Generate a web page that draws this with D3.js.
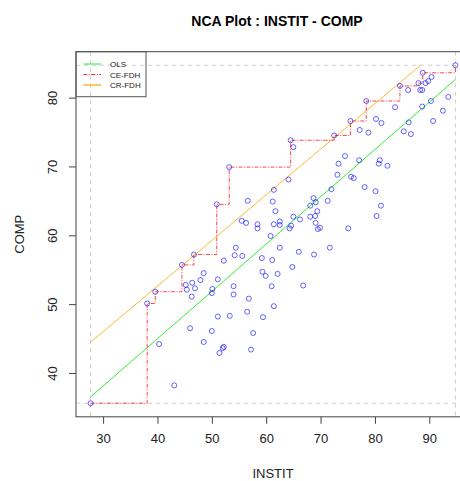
<!DOCTYPE html>
<html>
<head>
<meta charset="utf-8">
<script src="https://cdn.jsdelivr.net/npm/d3@7"></script>
<style>
	body { margin: 0; background: #fff; }
	text { font-family: Arial, "Liberation Sans", sans-serif; }
</style>
</head>
<body>
<svg id="canvas" width="460" height="481"></svg>
<script>
'use strict';

// INSTIT (x) and COMP (y) values
const instit = [
	27.7, 38.1, 39.6, 40.3, 43.1, 44.5, 45.2, 45.4, 46.4, 46.9,
	46.3, 46.0, 46.7, 47.9, 48.5, 48.5, 50.0, 50.1, 50.0, 50.9,
	51.1, 51.1, 51.4, 52.0, 52.2, 52.2, 53.2, 53.3, 54.0, 54.0,
	54.2, 54.4, 55.6, 55.5, 56.3, 56.6, 56.5, 56.8, 57.2, 57.6,
	58.4, 58.4, 59.2, 59.3, 59.9, 59.4, 60.8, 61.0, 61.1, 61.4,
	61.2, 61.7, 61.4, 61.4, 62.1, 62.5, 62.5, 62.5, 64.1, 64.5,
	65.0, 65.0, 64.6, 64.3, 64.8, 66.2, 66.0, 66.8, 68.7, 68.1,
	69.1, 68.1, 69.0, 69.4, 69.1, 69.5, 69.9, 68.8, 71.3, 71.7,
	72.0, 72.5, 73.1, 73.3, 74.5, 75.1, 75.5, 75.6, 76.1, 77.1,
	77.2, 78.1, 78.4, 78.8, 80.1, 80.2, 80.3, 80.9, 80.7, 81.1,
	81.2, 82.3, 83.7, 84.6, 85.3, 86.1, 86.2, 86.6, 88.0, 88.3,
	88.7, 88.7, 88.8, 89.3, 89.8, 90.3, 90.4, 90.7, 92.5, 93.5,
	94.8
];
const comp = [
	35.6, 50.1, 51.8, 44.2, 38.2, 55.7, 52.8, 52.1, 53.1, 52.3,
	51.1, 46.5, 57.2, 53.5, 54.5, 44.5, 51.6, 52.2, 46.1, 64.5,
	53.6, 48.2, 42.9, 43.6, 43.8, 56.3, 69.9, 48.3, 52.6, 51.4,
	57.1, 58.2, 57.0, 62.1, 61.8, 65.0, 48.9, 50.8, 43.4, 45.8,
	61.6, 61.0, 56.7, 54.7, 54.1, 48.1, 59.9, 52.6, 56.4, 66.6,
	64.9, 63.5, 61.6, 49.7, 54.4, 62.0, 61.5, 58.2, 68.1, 73.8,
	72.8, 62.7, 61.4, 61.0, 55.4, 62.3, 57.6, 52.7, 65.4, 64.3,
	64.8, 62.7, 62.8, 63.5, 61.8, 60.9, 61.1, 57.2, 65.0, 58.2,
	66.7, 74.5, 68.8, 70.4, 71.5, 61.0, 76.6, 68.5, 68.3, 70.9,
	75.3, 67.0, 79.5, 74.9, 66.4, 76.9, 62.8, 70.9, 70.4, 64.3,
	76.3, 70.1, 78.6, 81.7, 75.1, 81.1, 76.4, 74.7, 82.1, 81.1,
	81.1, 78.7, 83.6, 82.1, 82.4, 79.5, 83.0, 76.6, 78.1, 80.1,
	84.7
];

// fitted lines: [intercept, slope]
const olsCoef = [17.5, 0.687];
const crFdhCoef = [26.1, 0.663];

const xTicks = [30, 40, 50, 60, 70, 80, 90];
const yTicks = [40, 50, 60, 70, 80];

const legendItems = [
	{ label: 'OLS', color: '#33ee33', dash: null, width: 1 },
	{ label: 'CE-FDH', color: '#ff3030', dash: '4,1.5,1,1.5', width: 1 },
	{ label: 'CR-FDH', color: '#ffa500', dash: null, width: 2 }
];

const data = instit.map((x, i) => ({ x: x, y: comp[i] }));

/** plot region, R style 4% padding around the data range */
const plot = { left: 76, right: 470, top: 51.7, bottom: 416.8 };
const xExt = d3.extent(instit);
const yExt = d3.extent(comp);
const xPad = (xExt[1] - xExt[0]) * 0.04;
const yPad = (yExt[1] - yExt[0]) * 0.04;

const x = d3.scaleLinear()
	.domain([xExt[0] - xPad, xExt[1] + xPad])
	.range([plot.left, plot.right]);
const y = d3.scaleLinear()
	.domain([yExt[0] - yPad, yExt[1] + yPad])
	.range([plot.bottom, plot.top]);

const svg = d3.select('#canvas');

// scope box (dashed grey)
const scope = svg.append('g')
	.attr('stroke', '#cfcfcf')
	.attr('stroke-dasharray', '4,4')
	.attr('fill', 'none');
xExt.forEach(v => {
	scope.append('line')
		.attr('x1', x(v)).attr('x2', x(v))
		.attr('y1', plot.top).attr('y2', plot.bottom);
});
yExt.forEach(v => {
	scope.append('line')
		.attr('x1', plot.left).attr('x2', plot.right)
		.attr('y1', y(v)).attr('y2', y(v));
});

// axes
svg.append('g')
	.attr('transform', `translate(0,${plot.bottom})`)
	.call(d3.axisBottom(x).tickValues(xTicks).tickSize(7).tickPadding(10))
	.call(g => g.select('.domain').remove())
	.call(g => g.selectAll('line').attr('stroke', '#444'))
	.call(g => g.selectAll('text')
		.attr('font-size', 13)
		.attr('fill', '#222')
		.attr('font-family', 'Arial, "Liberation Sans", sans-serif'));

svg.append('g')
	.attr('transform', `translate(${plot.left},0)`)
	.call(d3.axisLeft(y).tickValues(yTicks).tickSize(7))
	.call(g => g.select('.domain').remove())
	.call(g => g.selectAll('line').attr('stroke', '#444'))
	.call(g => g.selectAll('text')
		.attr('font-size', 13)
		.attr('fill', '#222')
		.attr('font-family', 'Arial, "Liberation Sans", sans-serif')
		.attr('x', null).attr('dy', null)
		.attr('text-anchor', 'middle')
		.attr('transform', 'translate(-19.5,0) rotate(-90)')
		.attr('y', 0));

// frame
svg.append('rect')
	.attr('x', plot.left).attr('y', plot.top)
	.attr('width', plot.right - plot.left)
	.attr('height', plot.bottom - plot.top)
	.attr('fill', 'none')
	.attr('stroke', '#444');

// OLS line
svg.append('line')
	.attr('x1', x(xExt[0])).attr('y1', y(olsCoef[0] + olsCoef[1] * xExt[0]))
	.attr('x2', x(xExt[1])).attr('y2', y(olsCoef[0] + olsCoef[1] * xExt[1]))
	.attr('stroke', legendItems[0].color);

// CR-FDH line, stops at the top of the scope
let crEnd = Math.min(xExt[1], (yExt[1] - crFdhCoef[0]) / crFdhCoef[1]);
svg.append('line')
	.attr('x1', x(xExt[0])).attr('y1', y(crFdhCoef[0] + crFdhCoef[1] * xExt[0]))
	.attr('x2', x(crEnd)).attr('y2', y(crFdhCoef[0] + crFdhCoef[1] * crEnd))
	.attr('stroke', legendItems[2].color)
	.attr('stroke-opacity', 0.8);

// CE-FDH step ceiling: running max of COMP over sorted INSTIT
let sorted = data.slice().sort((a, b) => a.x - b.x || b.y - a.y);
let steps = [];
let runMax = -Infinity;
sorted.forEach(d => {
	if (d.y > runMax) {
		if (steps.length) steps.push([d.x, runMax]);
		steps.push([d.x, d.y]);
		runMax = d.y;
	}
});
svg.append('path')
	.attr('d', d3.line().x(p => x(p[0])).y(p => y(p[1]))(steps))
	.attr('fill', 'none')
	.attr('stroke', legendItems[1].color)
	.attr('stroke-opacity', 0.9)
	.attr('stroke-dasharray', legendItems[1].dash);

// points
svg.append('g')
	.selectAll('circle')
	.data(data)
	.join('circle')
		.attr('cx', d => x(d.x))
		.attr('cy', d => y(d.y))
		.attr('r', 2.5)
		.attr('fill', 'none')
		.attr('stroke', '#0000ff')
		.attr('stroke-opacity', 0.6);

// legend (no fill, as in the original)
const legend = svg.append('g');
legend.append('rect')
	.attr('x', plot.left).attr('y', plot.top)
	.attr('width', 70).attr('height', 45)
	.attr('fill', 'none')
	.attr('stroke', '#555');
legendItems.forEach((item, i) => {
	let ly = 64 + i * 10.5;
	legend.append('line')
		.attr('x1', 83.3).attr('x2', 101)
		.attr('y1', ly).attr('y2', ly)
		.attr('stroke', item.color)
		.attr('stroke-width', item.width)
		.attr('stroke-opacity', item.width > 1 ? 0.6 : 1)
		.attr('stroke-dasharray', item.dash);
	legend.append('text')
		.attr('x', 110).attr('y', ly + 3)
		.attr('font-size', 8)
		.attr('fill', '#222')
		.text(item.label);
});

// titles
svg.append('text')
	.attr('x', 277).attr('y', 25.5)
	.attr('text-anchor', 'middle')
	.attr('font-size', 14)
	.attr('font-weight', 'bold')
	.text('NCA Plot : INSTIT - COMP');

svg.append('text')
	.attr('x', 273).attr('y', 478)
	.attr('text-anchor', 'middle')
	.attr('font-size', 13)
	.attr('fill', '#222')
	.text('INSTIT');

svg.append('text')
	.attr('transform', `translate(24,${(plot.top + plot.bottom) / 2}) rotate(-90)`)
	.attr('text-anchor', 'middle')
	.attr('font-size', 13)
	.attr('fill', '#222')
	.text('COMP');
</script>
</body>
</html>
